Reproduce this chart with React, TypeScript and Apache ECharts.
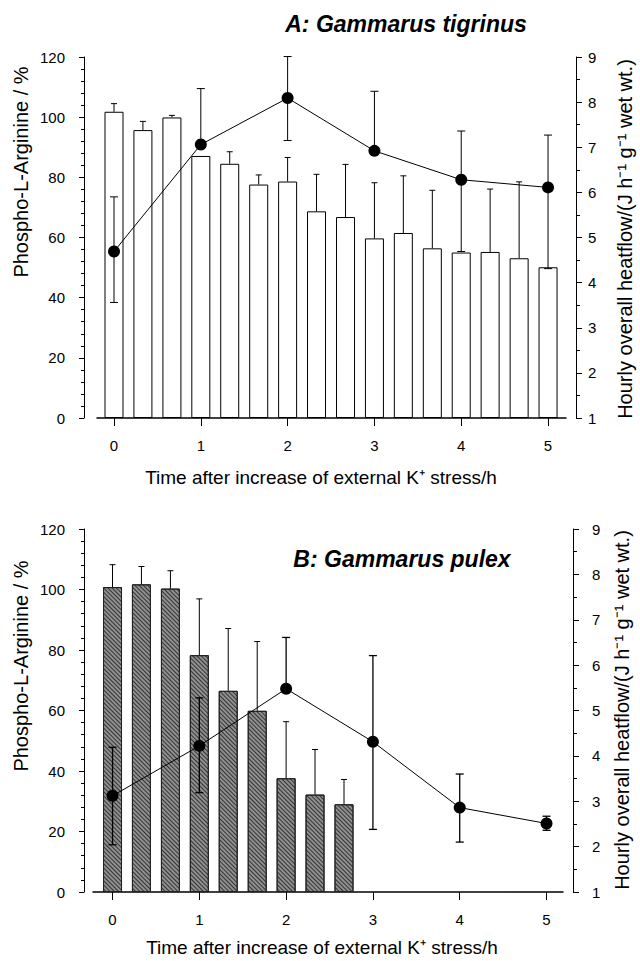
import React, { useEffect, useRef } from "react";
import * as echarts from "echarts";

// ---- Panel A: Gammarus tigrinus ----
const barTimeA = [0, 0.333, 0.667, 1, 1.333, 1.667, 2, 2.333, 2.667, 3, 3.333, 3.667, 4, 4.333, 4.667, 5];
const argA = [101.8, 95.7, 99.9, 87.1, 84.5, 77.6, 78.6, 68.7, 66.8, 59.7, 61.5, 56.4, 55.0, 55.2, 53.1, 50.1];
const argErrA = [2.7, 2.9, 0.7, null, 4.0, 3.2, 8.0, 12.3, 17.5, 18.5, 19.0, 19.3, null, 20.9, 25.4, null];
const hourTimes = [0, 1, 2, 3, 4, 5];
const heatA = [4.69, 7.06, 8.09, 6.92, 6.28, 6.11];
const heatUpA = [1.21, 1.24, 0.92, 1.32, 1.08, 1.16];
const heatDownA = [1.13, 0, 0.94, 0, 1.59, 1.8];

// ---- Panel B: Gammarus pulex ----
const barTimeB = [0, 0.333, 0.667, 1, 1.333, 1.667, 2, 2.333, 2.667];
const argB = [100.8, 101.7, 100.3, 78.3, 66.5, 59.9, 37.6, 32.2, 29.0];
const argErrB = [7.4, 5.9, 5.9, 18.6, 20.6, 22.9, 18.7, 14.9, 8.2];
const heatB = [3.12, 4.22, 5.48, 4.31, 2.86, 2.51];
const heatUpB = [1.07, 1.06, 1.13, 1.9, 0.74, 0.16];
const heatDownB = [1.08, 1.03, 0, 1.93, 0.76, 0.15];

const xTicks = [0, 1, 2, 3, 4, 5];

const FONT = '"Liberation Sans", Arial, Helvetica, sans-serif';
const titleA = "A: Gammarus tigrinus";
const titleB = "B: Gammarus pulex";
const xName = "Time after increase of external K\u207A stress/h";
const leftName = "Phospho-L-Arginine / %";
const rightName = "Hourly overall heatflow/(J h\u207B\u00B9 g\u207B\u00B9 wet wt.)";

function errRender(capHalf: number, width: number) {
  return (params: any, api: any) => {
    const x = api.value(0);
    const y = api.value(1);
    const up = api.value(2);
    const down = api.value(3);
    const pTop = api.coord([x, y + up]);
    const pBot = api.coord([x, y - down]);
    const style = { stroke: "#000", lineWidth: width };
    const children: any[] = [
      { type: "line", shape: { x1: pTop[0], y1: pTop[1], x2: pBot[0], y2: pBot[1] }, style },
    ];
    if (up > 0) {
      children.push({ type: "line", shape: { x1: pTop[0] - capHalf, y1: pTop[1], x2: pTop[0] + capHalf, y2: pTop[1] }, style });
    }
    if (down > 0) {
      children.push({ type: "line", shape: { x1: pBot[0] - capHalf, y1: pBot[1], x2: pBot[0] + capHalf, y2: pBot[1] }, style });
    }
    return { type: "group", children };
  };
}

const hatch = {
  symbol: "rect",
  symbolSize: 1,
  dashArrayX: [1, 0],
  dashArrayY: [1, 1.5],
  rotation: Math.PI / 4,
  color: "rgba(30,30,30,0.8)",
};

export default function App() {
  const ref = useRef<HTMLDivElement>(null);
  useEffect(() => {
    if (!ref.current) return;
    const chart = echarts.init(ref.current, undefined, { renderer: "svg" });

    const leftAxis = (grid: number, offset: number) => ({
      type: "value",
      gridIndex: grid,
      position: "left",
      offset,
      min: 0,
      max: 120,
      interval: 20,
      axisLine: { show: true, onZero: false, lineStyle: { color: "#000", width: 1 } },
      axisTick: { show: true, length: 5, lineStyle: { color: "#000" } },
      minorTick: { show: true, splitNumber: 5, length: 3, lineStyle: { color: "#000" } },
      splitLine: { show: false },
      axisLabel: { color: "#000", fontSize: 15, fontFamily: FONT, margin: 19 },
    });
    const rightAxis = (grid: number, offset: number, margin: number) => ({
      type: "value",
      gridIndex: grid,
      position: "right",
      offset,
      min: 1,
      max: 9,
      interval: 1,
      axisLine: { show: true, onZero: false, lineStyle: { color: "#000", width: 1 } },
      axisTick: { show: true, length: 6, lineStyle: { color: "#000" } },
      minorTick: { show: true, splitNumber: 2, length: 4, lineStyle: { color: "#000" } },
      splitLine: { show: false },
      axisLabel: { color: "#000", fontSize: 15, fontFamily: FONT, margin },
    });
    const xAxis = (grid: number, min: number, max: number) => ({
      type: "value",
      gridIndex: grid,
      min,
      max,
      axisLine: { show: true, onZero: false, lineStyle: { color: "#000", width: 1.5 } },
      axisTick: { show: true, length: 8, customValues: xTicks, lineStyle: { color: "#000" } },
      axisLabel: { color: "#000", fontSize: 15, fontFamily: FONT, margin: 20, customValues: xTicks },
      splitLine: { show: false },
    });

    const nameText = (text: string, x: number, y: number, rot: number, size: number) => ({
      type: "text",
      x,
      y,
      rotation: rot,
      style: {
        text,
        fill: "#000",
        fontSize: size,
        fontFamily: FONT,
        align: "center",
        verticalAlign: "middle",
      },
    });
    const titleText = (text: string, x: number, y: number) => ({
      type: "text",
      x,
      y,
      style: {
        text,
        fill: "#000",
        fontSize: 23,
        fontWeight: "bold",
        fontStyle: "italic",
        fontFamily: FONT,
        align: "center",
        verticalAlign: "middle",
      },
    });

    const barsA = barTimeA.map((t, i) => [t, argA[i]]);
    const barsB = barTimeB.map((t, i) => [t, argB[i]]);
    const barErrDataA = barTimeA
      .map((t, i) => (argErrA[i] == null ? null : [t, argA[i], argErrA[i], 0]))
      .filter((d) => d !== null);
    const barErrDataB = barTimeB.map((t, i) => [t, argB[i], argErrB[i], 0]);
    const heatErrA = hourTimes.map((t, i) => [t, heatA[i], heatUpA[i], heatDownA[i]]);
    const heatErrB = hourTimes.map((t, i) => [t, heatB[i], heatUpB[i], heatDownB[i]]);

    chart.setOption({
      animation: false,
      backgroundColor: "#fff",
      textStyle: { fontFamily: FONT },
      grid: [
        { left: 97, right: 74, top: 57, bottom: 543 },
        { left: 93, right: 77, top: 529, bottom: 69 },
      ],
      xAxis: [xAxis(0, -0.196, 5.207), xAxis(1, -0.225, 5.19)],
      yAxis: [leftAxis(0, 13), rightAxis(0, 10, 12), leftAxis(1, 9), rightAxis(1, 10, 19)],
      series: [
        {
          type: "bar",
          xAxisIndex: 0,
          yAxisIndex: 0,
          data: barsA,
          barWidth: 19,
          z: 2,
          itemStyle: { color: "#fff", borderColor: "#000", borderWidth: 1 },
        },
        {
          type: "custom",
          xAxisIndex: 0,
          yAxisIndex: 0,
          data: barErrDataA,
          renderItem: errRender(3, 1),
          z: 3,
        },
        {
          type: "custom",
          xAxisIndex: 0,
          yAxisIndex: 1,
          data: heatErrA,
          renderItem: errRender(4, 1),
          z: 4,
        },
        {
          type: "line",
          xAxisIndex: 0,
          yAxisIndex: 1,
          data: hourTimes.map((t, i) => [t, heatA[i]]),
          symbol: "circle",
          symbolSize: 12,
          z: 5,
          itemStyle: { color: "#000" },
          lineStyle: { color: "#000", width: 1 },
        },
        {
          type: "bar",
          xAxisIndex: 1,
          yAxisIndex: 2,
          data: barsB,
          barWidth: 19,
          z: 2,
          itemStyle: { color: "#8f8f8f", borderColor: "#222", borderWidth: 1, decal: hatch },
        },
        {
          type: "custom",
          xAxisIndex: 1,
          yAxisIndex: 2,
          data: barErrDataB,
          renderItem: errRender(3, 1),
          z: 3,
        },
        {
          type: "custom",
          xAxisIndex: 1,
          yAxisIndex: 3,
          data: heatErrB,
          renderItem: errRender(4, 1.3),
          z: 4,
        },
        {
          type: "line",
          xAxisIndex: 1,
          yAxisIndex: 3,
          data: hourTimes.map((t, i) => [t, heatB[i]]),
          symbol: "circle",
          symbolSize: 12,
          z: 5,
          itemStyle: { color: "#000" },
          lineStyle: { color: "#000", width: 1 },
        },
      ],
      graphic: [
        titleText(titleA, 406, 24),
        titleText(titleB, 402, 559),
        nameText(leftName, 21, 172, Math.PI / 2, 20),
        nameText(leftName, 21, 666, Math.PI / 2, 20),
        nameText(rightName, 625, 239, Math.PI / 2, 20),
        nameText(rightName, 622, 710, Math.PI / 2, 20),
        nameText(xName, 321, 477, 0, 19),
        nameText(xName, 322, 947, 0, 19),
      ],
    });
    return () => chart.dispose();
  }, []);
  return (
    <div
      ref={ref}
      style={{ position: "absolute", left: 0, top: 0, width: 640, height: 961, background: "#fff" }}
    />
  );
}
